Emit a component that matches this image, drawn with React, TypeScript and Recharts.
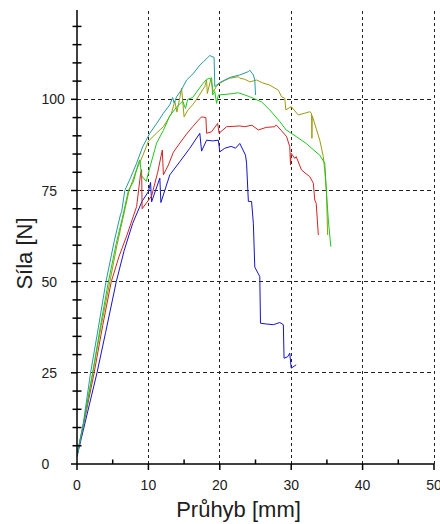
import React from 'react';
import { LineChart, Line, XAxis, YAxis, ReferenceLine } from 'recharts';

const X_TICKS = [0, 5, 10, 15, 20, 25, 30, 35, 40, 45, 50];
const Y_TICKS = [0, 5, 10, 15, 20, 25, 30, 35, 40, 45, 50, 55, 60, 65, 70, 75, 80, 85, 90, 95, 100, 105, 110, 115, 120];
const X_GRID = [10, 20, 30, 40, 50];
const Y_GRID = [25, 50, 75, 100];

const BLUE = [[0,2],[0.6,7],[2.8,25],[4,36],[5.5,50],[6.6,58.5],[7.8,66],[9.1,72],[10,74.7],[10.3,77.2],[10.45,71.9],[11.6,78.4],[11.75,71.7],[13,79.3],[14.4,82.9],[15.8,86.6],[17.2,90.7],[17.45,85.8],[18.15,88.8],[19,88.6],[19.8,88.8],[20,85.6],[20.7,86.6],[21.6,87.1],[22.2,86.6],[22.8,87.9],[23.6,84.7],[23.75,82.5],[24,72],[24.45,72],[24.7,66],[24.9,54],[25.6,51.4],[25.7,38.6],[26.5,38.4],[27.5,38.2],[28.4,38.8],[28.9,38.2],[29,29],[29.5,29.4],[29.8,30.4],[30,26.3],[30.4,26.8],[30.7,27.2]];
const RED = [[0,2.5],[1,11.5],[2.4,25],[3.6,38],[4.8,50],[5.9,57],[6.95,62.5],[8.35,70.6],[8.9,79.5],[9.05,80.7],[9.12,70],[10.45,73.5],[11.3,80],[11.95,86.1],[12.1,79.3],[12.8,82],[13.5,85.5],[14.4,88],[15.35,90.5],[16.2,92.5],[17,94.3],[17.45,95.2],[18.05,95],[18.15,90.7],[18.85,91.1],[19.7,93.4],[19.9,90.7],[20.95,92.5],[22,92.6],[22.8,92.7],[23.5,92.5],[24.5,92.9],[25.4,91.6],[26.5,92.3],[27.7,92.5],[27.9,93],[28.6,91.5],[29.35,89.8],[29.8,87],[29.9,82],[30,85.2],[30.5,83.8],[30.7,84.3],[31.45,80.6],[32.6,78.8],[33.1,77],[33.3,72.4],[33.5,71.5],[33.8,62.8]];
const OLIVE = [[0,2.5],[1,12],[2.2,25],[3.4,38],[4.6,50],[5.6,60],[6.5,68],[7.3,75],[8.3,80.5],[9.2,84.5],[10,88.5],[11,90.5],[12.1,92.5],[13.2,96],[13.7,99.5],[14,96.5],[14.4,100.5],[14.65,103],[15,95.2],[15.5,97],[16.2,98.5],[16.75,100],[17.4,102],[17.9,103.5],[18.15,105.3],[18.25,101.6],[18.75,105.6],[19.1,102],[19.5,103.5],[20,104.4],[20.7,105.2],[21.4,105.8],[22.6,106.2],[22.8,105.8],[23.5,105.5],[24.2,104.8],[25.15,105.3],[26,104.5],[27,103.9],[28.2,102.5],[28.65,100.7],[29.1,100.3],[29.25,97.1],[30,98],[31,95.7],[31.9,96.2],[32.6,96.6],[32.85,96.2],[32.9,89.3],[32.95,95.5],[33.5,92],[34,88.8],[34.5,84.3],[34.7,80.6],[34.95,74.2],[35.1,62.8]];
const GREEN = [[0,2.5],[1,12],[2.2,25],[3.3,38],[4.4,50],[5.5,60.5],[6.3,67],[7.2,75],[7.9,77.4],[8.6,82.5],[8.8,83.4],[9.05,79],[9.7,77.5],[10.3,82],[11.15,88],[12.1,91.5],[13,95.5],[14,98],[14.8,99.5],[15.2,97.5],[15.5,100],[16.2,100.5],[16.75,102],[17.5,104],[18.15,105.5],[18.85,105.9],[19,101.2],[19.3,102.1],[19.55,98.9],[19.8,101.2],[21,101.4],[21.9,101.6],[22.6,101.8],[23.5,101.2],[24.2,100.7],[25.85,99.3],[27,97.1],[28.4,93.9],[29.3,91.6],[30.7,89.8],[32.1,87.9],[33.2,86],[34,84.7],[34.7,82.5],[34.95,74.2],[35.2,66.9],[35.55,59.6]];
const TEAL = [[0,2.5],[0.8,10],[1.9,25],[3,37.5],[4.06,50],[5.2,61],[6.1,68.5],[6.25,69.2],[6.7,75],[7.5,78.5],[8.35,82.5],[9.2,87],[10.2,90.7],[11.2,93.5],[12.1,96.2],[13,98.5],[13.4,100.5],[13.6,99],[13.95,100.7],[14.6,102.5],[15.35,105.3],[16.3,107.1],[17.2,109.4],[17.7,110.3],[18.6,112],[19.2,111.5],[19.3,103.5],[20,104.6],[21.4,106],[22.8,106.7],[24,107.6],[24.2,108],[24.7,106.7],[24.9,105.3],[25,101.2]];

const SERIES = [
  { name: 'blue', color: '#1414c8', points: BLUE },
  { name: 'red', color: '#d42424', points: RED },
  { name: 'olive', color: '#9b9b12', points: OLIVE },
  { name: 'green', color: '#1ec81e', points: GREEN },
  { name: 'teal', color: '#249c9c', points: TEAL },
];

const FONT = '"Liberation Sans", Arial, sans-serif';
const TEXT = '#202020';

const XTick = (props: any) => {
  const { x, y, payload } = props;
  const v = payload.value;
  const major = v % 10 === 0;
  return (
    <g>
      {major ? (
        <line x1={x} y1={y} x2={x} y2={y + 6} stroke="#000" strokeWidth={1.5} />
      ) : (
        <line x1={x} y1={y - 4.5} x2={x} y2={y} stroke="#000" strokeWidth={1.5} />
      )}
      {major && (
        <text x={x} y={y + 26} textAnchor="middle" fontSize={14} fontFamily={FONT} fill={TEXT}>
          {v}
        </text>
      )}
    </g>
  );
};

const YTick = (props: any) => {
  const { x, y, payload } = props;
  const v = payload.value;
  const major = v % 25 === 0;
  return (
    <g>
      {major ? (
        <line x1={x - 6} y1={y} x2={x} y2={y} stroke="#000" strokeWidth={1.5} />
      ) : (
        <line x1={x - 4.5} y1={y} x2={x + 4.5} y2={y} stroke="#000" strokeWidth={1.5} />
      )}
      {major && (
        <text x={x - 35.5} y={y + 5} textAnchor="start" fontSize={14} fontFamily={FONT} fill={TEXT}>
          {v}
        </text>
      )}
    </g>
  );
};

const XTitle = (props: any) => {
  const vb = props.viewBox || { x: 77, y: 464, width: 357, height: 60 };
  return (
    <text x={vb.x + vb.width / 2 - 17} y={vb.y + 53} textAnchor="middle" fontSize={22} fontFamily={FONT} fill={TEXT}>
      Průhyb [mm]
    </text>
  );
};

const YTitle = (props: any) => {
  const vb = props.viewBox || { x: 0, y: 10, width: 77, height: 454 };
  const cx = vb.x + 32;
  const cy = vb.y + vb.height / 2 + 16.5;
  return (
    <text x={cx} y={cy} transform={`rotate(-90 ${cx} ${cy})`} textAnchor="middle" fontSize={22} fontFamily={FONT} fill={TEXT}>
      Síla [N]
    </text>
  );
};

export default function App() {
  return (
    <div style={{ position: 'absolute', left: 0, top: 0, width: 440, height: 524, background: '#fff' }}>
      <LineChart width={440} height={524} margin={{ top: 10, right: 6, bottom: 0, left: 0 }}>
        <XAxis
          type="number"
          dataKey="x"
          domain={[0, 50]}
          ticks={X_TICKS}
          interval={0}
          allowDataOverflow
          height={60}
          tickSize={0}
          tickMargin={0}
          tickLine={false}
          axisLine={{ stroke: '#000', strokeWidth: 1.5 }}
          tick={XTick}
          label={XTitle}
        />
        <YAxis
          type="number"
          dataKey="y"
          domain={[0, 124.5]}
          ticks={Y_TICKS}
          interval={0}
          allowDataOverflow
          width={77}
          tickSize={0}
          tickMargin={0}
          tickLine={false}
          axisLine={{ stroke: '#000', strokeWidth: 1.5 }}
          tick={YTick}
          label={YTitle}
        />
        {Y_GRID.map((v) => (
          <ReferenceLine key={'h' + v} y={v} stroke="#222" strokeWidth={1} strokeDasharray="4 3" shapeRendering="crispEdges" ifOverflow="visible" />
        ))}
        {X_GRID.map((v) => (
          <ReferenceLine key={'v' + v} x={v} stroke="#222" strokeWidth={1} strokeDasharray="3 3" shapeRendering="crispEdges" ifOverflow="visible" />
        ))}
        {SERIES.map((s) => (
          <Line
            key={s.name}
            data={s.points.map(([x, y]) => ({ x, y }))}
            dataKey="y"
            type="linear"
            stroke={s.color}
            strokeWidth={1}
            dot={false}
            activeDot={false}
            isAnimationActive={false}
          />
        ))}
      </LineChart>
    </div>
  );
}
